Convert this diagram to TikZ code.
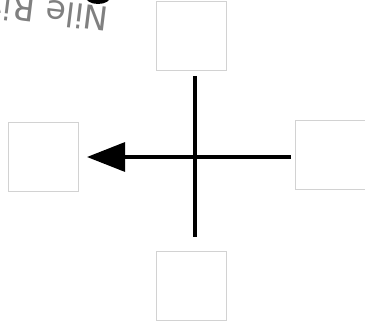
\documentclass[tikz,border=0pt]{standalone}
\usepackage{fontspec}
\setmainfont{DejaVu Sans}
\usetikzlibrary{arrows.meta}
\definecolor{boxgray}{RGB}{210,210,210}
\definecolor{labelgray}{RGB}{128,128,128}
\tikzset{
  sqbox/.style={draw=boxgray, line width=0.8pt, minimum width=70pt, minimum height=69pt, inner sep=0pt},
  axisline/.style={line width=3.2pt, black},
}
\begin{document}
\begin{tikzpicture}[x=1pt,y=-1pt]
\useasboundingbox (0,0) rectangle (365,326);
\clip (0,0) rectangle (365,326);
\node[sqbox] (top) at (191,35.5) {};
\node[sqbox] (bottom) at (191,285.5) {};
\node[sqbox] (left) at (43,156.5) {};
\node[sqbox] (right) at (330,155) {};
\coordinate (vtop) at (195,76);
\coordinate (vbot) at (195,237);
\coordinate (hright) at (291,157);
\coordinate (hleft) at (87,157);
\draw[axisline] (vtop) -- (vbot);
\draw[axisline, -{Triangle[length=38pt,width=29pt]}] (hright) -- (hleft);
\fill[black] (98,-4) ellipse [x radius=13pt, y radius=8pt];
\node[text=labelgray, font=\fontsize{33}{40}\selectfont, rotate=173, anchor=base west, inner sep=0pt] (nile) at (110,8) {Nile River};
\end{tikzpicture}
\end{document}
